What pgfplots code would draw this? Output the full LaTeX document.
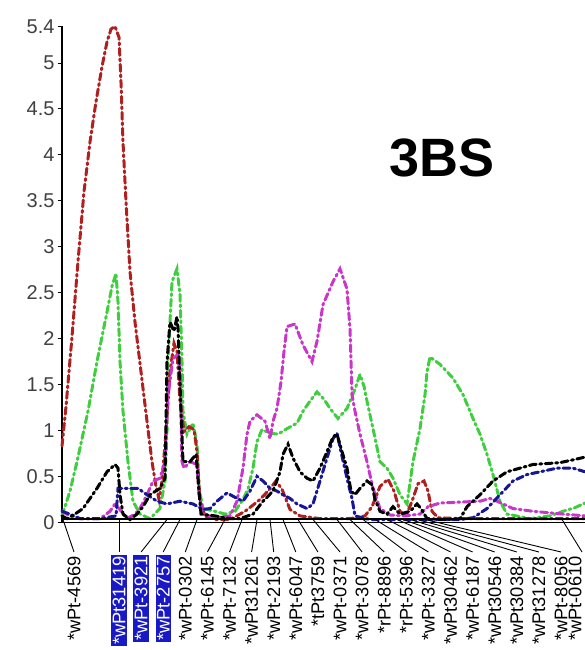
\documentclass[border=0pt]{standalone}
\usepackage{pgfplots}
\pgfplotsset{compat=1.18}
\usepackage{fontspec}
\setmainfont{Liberation Sans}

\definecolor{lodred}{RGB}{175,32,32}
\definecolor{lodgreen}{RGB}{64,206,64}
\definecolor{lodmagenta}{RGB}{200,55,200}
\definecolor{lodblue}{RGB}{22,22,150}
\definecolor{hlblue}{RGB}{24,24,196}

\tikzset{lod/.style={line width=3pt, dash pattern=on 7pt off 3.5pt on 2pt off 3.5pt, line cap=round}}

\begin{document}
\begin{tikzpicture}[x=1pt,y=1pt]
\useasboundingbox (0,0) rectangle (585,650);
\begin{axis}[
  at={(62,139)}, anchor=south west,
  scale only axis, width=523pt, height=496pt,
  xmin=62, xmax=585, ymin=0, ymax=5.4,
  axis x line=bottom, axis y line=left,
  axis line style={-, line width=1.1pt},
  xtick=\empty,
  ytick={0,0.5,1,1.5,2,2.5,3,3.5,4,4.5,5,5.4},
  tick align=outside, major tick length=4pt,
  tick style={line width=1pt, black},
  /pgf/number format/assume math mode=true,
  yticklabel style={font=\fontsize{20}{20}\selectfont, text=black!75},
  clip=false,
]
% LOD profiles along the chromosome (position, LOD)
\addplot[lod, lodgreen] coordinates {
(62,0.07)(70,0.34)(77,0.66)(88,1.21)(97,1.75)(107,2.29)(112,2.57)(116,2.71)(118,2.40)
(120,1.75)(123,1.21)(128,0.66)(133,0.23)(140,0.09)(150,0.04)(160,0.15)(165,0.45)
(167,0.99)(168,1.75)(172,2.62)(177,2.76)(180,2.48)(182,1.75)(183,1.21)(187,0.96)
(193,1.08)(197,0.85)(199,0.37)(203,0.15)(215,0.12)(225,0.09)(235,0.12)(243,0.25)
(248,0.36)(253,0.59)(257,0.88)(262,1.01)(270,0.97)(278,0.96)(287,1.02)(297,1.08)
(303,1.21)(310,1.32)(317,1.42)(324,1.34)(330,1.24)(338,1.13)(347,1.24)(355,1.45)
(360,1.61)(364,1.48)(367,1.32)(373,1.02)(380,0.66)(387,0.59)(393,0.48)(400,0.30)
(407,0.20)(413,0.66)(420,1.02)(425,1.39)(427,1.64)(430,1.80)(440,1.72)(453,1.57)
(463,1.39)(473,1.13)(480,0.96)(487,0.74)(493,0.52)(500,0.23)(507,0.09)(530,0.04)
(550,0.07)(563,0.12)(575,0.16)(585,0.21)};
\addplot[lod, lodred] coordinates {
(62,0.83)(66,1.26)(72,2.02)(78,2.84)(84,3.60)(90,4.14)(96,4.58)(102,4.96)(107,5.23)
(111,5.37)(115,5.40)(119,5.28)(121,4.79)(123,4.14)(126,3.49)(130,2.73)(135,2.18)
(141,1.64)(147,1.10)(152,0.66)(156,0.39)(159,0.25)(162,0.45)(166,0.99)(170,1.64)
(174,1.95)(177,1.86)(180,1.32)(184,0.99)(189,1.04)(194,1.01)(197,0.77)(200,0.23)
(205,0.07)(215,0.03)(230,0.03)(245,0.12)(258,0.23)(268,0.34)(276,0.45)(282,0.36)
(290,0.14)(300,0.07)(320,0.04)(350,0.04)(365,0.07)(372,0.17)(380,0.39)(388,0.47)
(394,0.34)(400,0.12)(406,0.07)(412,0.23)(418,0.42)(424,0.45)(428,0.34)(432,0.12)
(438,0.05)(460,0.04)(585,0.04)};
\addplot[lod, lodmagenta] coordinates {
(62,0.12)(70,0.07)(80,0.04)(100,0.04)(110,0.12)(115,0.20)(119,0.15)(127,0.04)
(135,0.09)(140,0.15)(147,0.30)(153,0.45)(160,0.48)(165,0.66)(168,1.39)(173,1.78)
(178,1.83)(180,1.67)(182,0.66)(184,0.59)(190,0.66)(197,0.63)(199,0.30)(203,0.09)
(215,0.05)(230,0.07)(237,0.23)(243,0.59)(247,0.96)(250,1.10)(257,1.17)(265,1.10)
(270,0.91)(273,1.10)(277,1.24)(281,1.53)(284,1.86)(287,2.13)(295,2.16)(303,1.93)
(312,1.75)(317,1.97)(323,2.37)(333,2.62)(340,2.76)(347,2.54)(350,2.11)(352,1.39)
(355,1.21)(360,0.96)(367,0.66)(373,0.37)(380,0.15)(390,0.08)(405,0.07)(420,0.09)
(428,0.17)(440,0.21)(460,0.22)(480,0.23)(490,0.26)(497,0.23)(513,0.15)(533,0.12)
(563,0.09)(585,0.07)};
\addplot[lod, lodblue] coordinates {
(62,0.12)(70,0.09)(80,0.04)(100,0.04)(116,0.07)(118,0.37)(125,0.37)(138,0.37)
(147,0.30)(157,0.23)(167,0.20)(180,0.23)(193,0.20)(203,0.14)(210,0.15)(217,0.23)
(227,0.32)(237,0.26)(243,0.23)(250,0.34)(257,0.50)(263,0.45)(270,0.37)(277,0.34)
(283,0.30)(290,0.26)(297,0.20)(307,0.15)(313,0.20)(320,0.45)(327,0.70)(333,0.91)
(337,0.97)(342,0.72)(347,0.48)(352,0.26)(355,0.07)(370,0.03)(420,0.03)(460,0.03)
(473,0.05)(487,0.15)(500,0.30)(513,0.45)(527,0.52)(540,0.55)(557,0.59)(573,0.59)
(585,0.55)};
\addplot[lod, black] coordinates {
(62,0.07)(67,0.04)(75,0.09)(83,0.15)(90,0.26)(97,0.37)(107,0.55)(115,0.63)(118,0.59)
(120,0.30)(123,0.09)(130,0.03)(137,0.09)(143,0.17)(150,0.30)(160,0.37)(165,0.48)
(167,1.75)(170,2.18)(174,2.08)(177,2.24)(178,2.11)(181,1.21)(183,0.66)(190,0.66)
(196,0.74)(199,0.34)(201,0.09)(215,0.07)(230,0.04)(240,0.04)(253,0.09)(263,0.23)
(273,0.34)(280,0.55)(283,0.74)(288,0.85)(293,0.70)(300,0.55)(307,0.48)(313,0.45)
(320,0.59)(327,0.77)(333,0.93)(337,0.96)(342,0.77)(347,0.59)(351,0.34)(355,0.30)
(360,0.37)(367,0.45)(372,0.41)(375,0.25)(380,0.12)(387,0.09)(393,0.17)(400,0.09)
(410,0.12)(417,0.20)(421,0.15)(427,0.04)(445,0.03)(460,0.04)(467,0.17)(480,0.30)
(493,0.45)(507,0.55)(520,0.59)(533,0.63)(547,0.64)(560,0.65)(573,0.68)(585,0.71)};
\end{axis}

% chromosome bar
\draw[line width=1.1pt] (62,131) -- (590,131);

% marker connectors: position on the bar / label position
\foreach \t/\b in {63/74, 119/119, 167/141.1, 180/163.2, 197/185.3, 225/207.4,
  242/229.5, 257/251.6, 270/273.7, 283/295.8, 298/317.9, 313/340, 337/362.1,
  350/384.2, 363/406.3, 375/428.4, 387/450.5, 397/472.6, 403/494.7, 410/516.8,
  417/538.9, 425/561, 562/582}
  \draw[line width=0.9pt] (\t,130.5) -- (\b,98);

\tikzset{mk/.style={rotate=90, anchor=east, inner sep=1.2pt, font=\fontsize{18.3}{18.3}\selectfont},
         mkhl/.style={mk, fill=hlblue, text=white}}
\node[mk]   at (74,95)    {*wPt-4569};
\node[mkhl] at (119,95)   {*wPt31419};
\node[mkhl] at (141.1,95) {*wPt-3921};
\node[mkhl] at (163.2,95) {*wPt-2757};
\node[mk]   at (185.3,95) {*wPt-0302};
\node[mk]   at (207.4,95) {*wPt-6145};
\node[mk]   at (229.5,95) {*wPt-7132};
\node[mk]   at (251.6,95) {*wPt31261};
\node[mk]   at (273.7,95) {*wPt-2193};
\node[mk]   at (295.8,95) {*wPt-6047};
\node[mk]   at (317.9,95) {*tPt3759};
\node[mk]   at (340,95)   {*wPt-0371};
\node[mk]   at (362.1,95) {*wPt-3078};
\node[mk]   at (384.2,95) {*rPt-8896};
\node[mk]   at (406.3,95) {*rPt-5396};
\node[mk]   at (428.4,95) {*wPt-3327};
\node[mk]   at (450.5,95) {*wPt30462};
\node[mk]   at (472.6,95) {*wPt-6187};
\node[mk]   at (494.7,95) {*wPt30546};
\node[mk]   at (516.8,95) {*wPt30384};
\node[mk]   at (538.9,95) {*wPt31278};
\node[mk]   at (561,95)   {*wPt-8056};
\node[mk]   at (575,95)   {*wPt-0610};

\node[font=\bfseries\fontsize{54}{54}\selectfont] at (442,492) {3BS};
\end{tikzpicture}
\end{document}
